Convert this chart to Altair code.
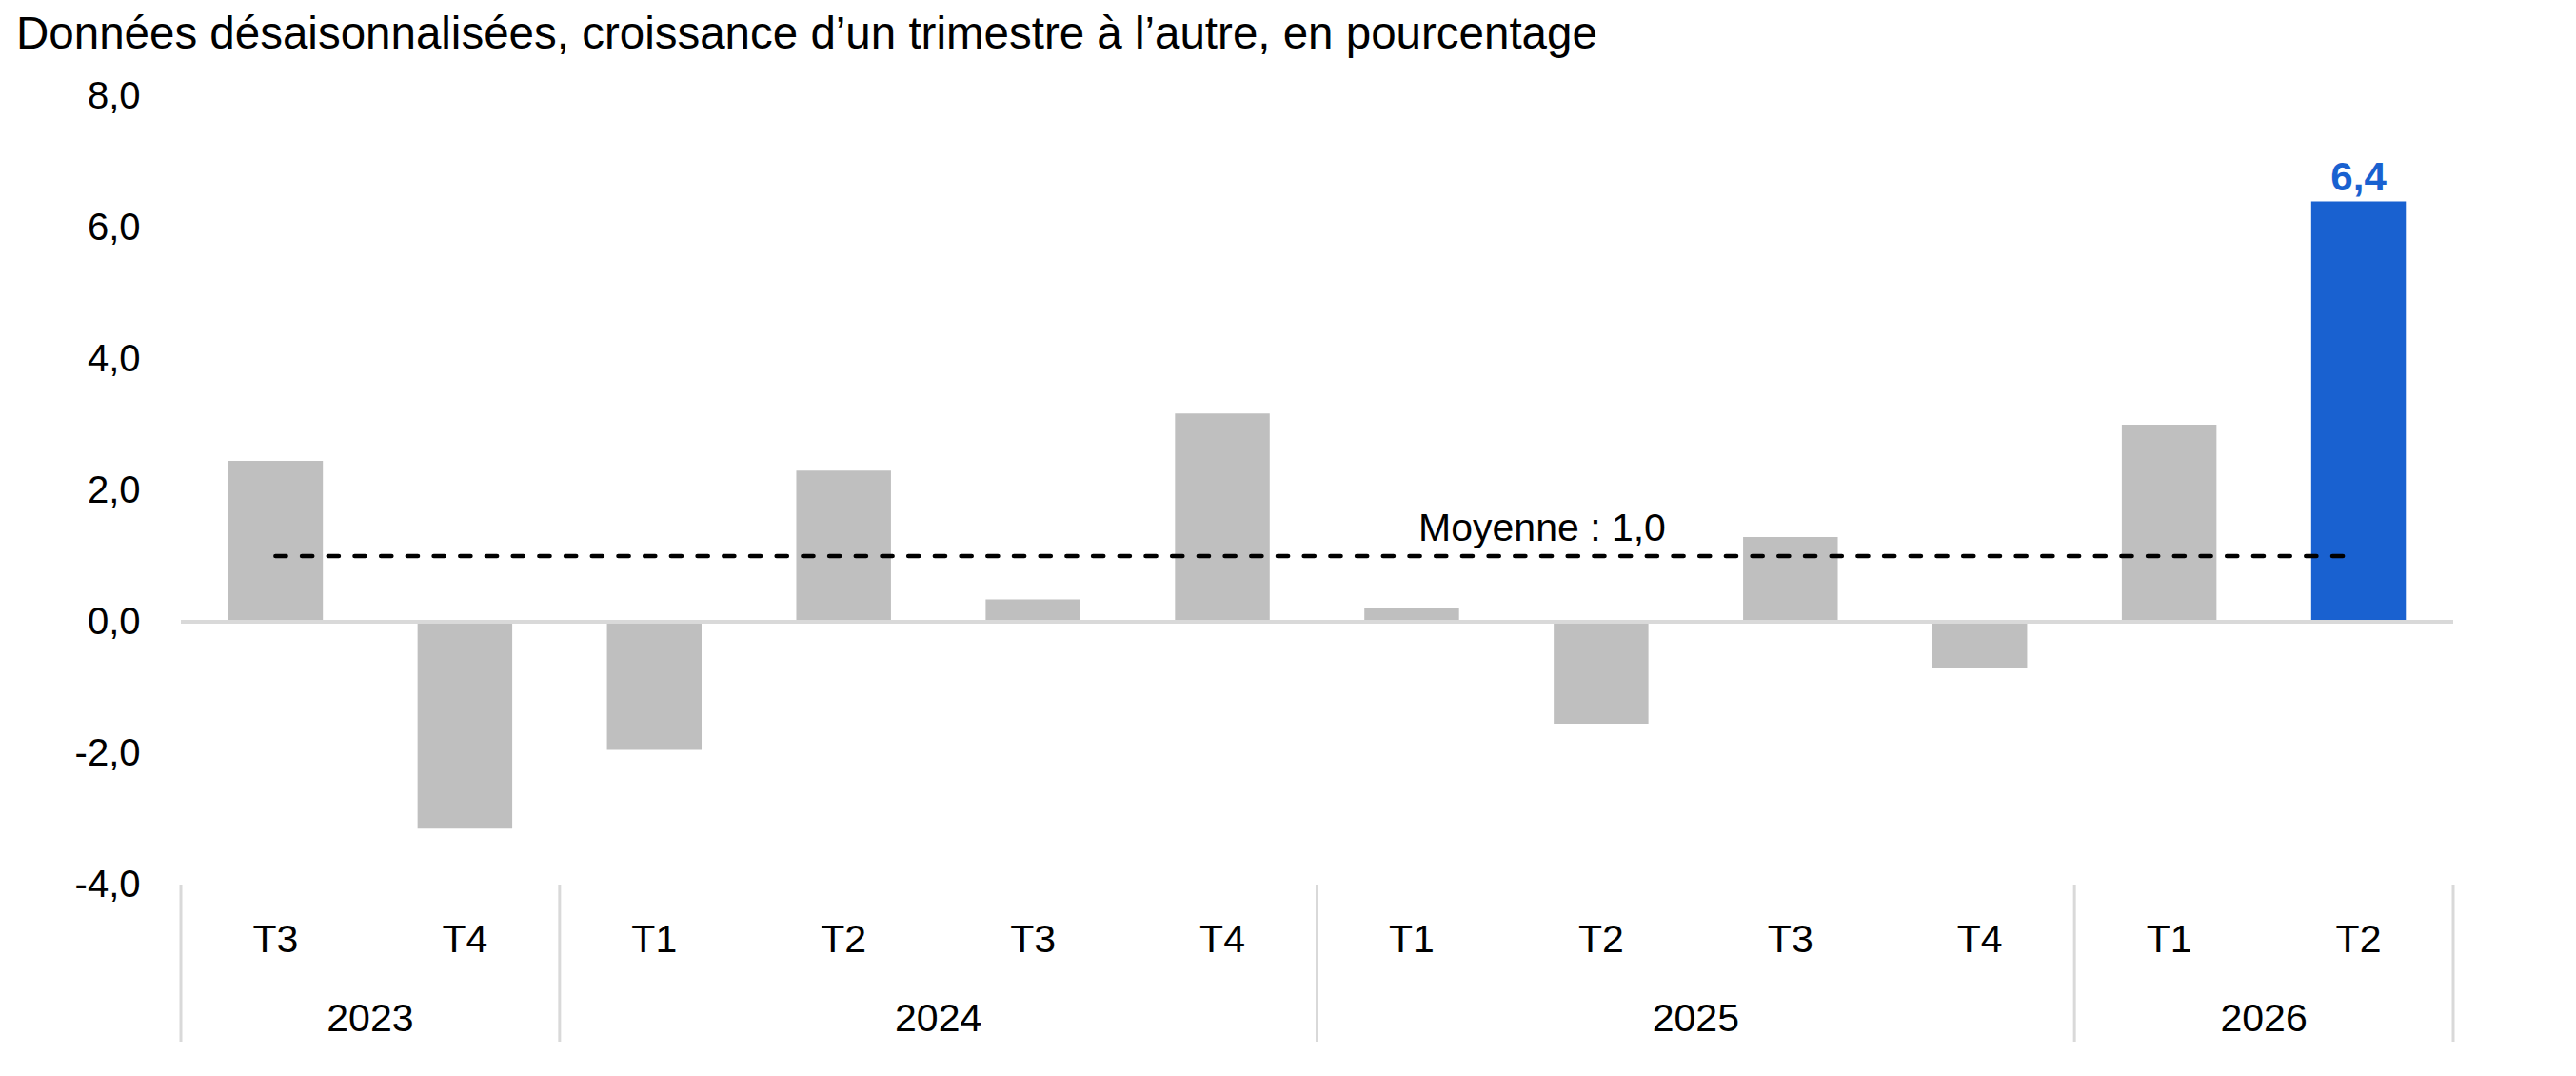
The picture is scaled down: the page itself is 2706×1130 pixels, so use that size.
import altair as alt
import pandas as pd

# ---- data ----
years = ["2023", "2023", "2024", "2024", "2024", "2024",
         "2025", "2025", "2025", "2025", "2026", "2026"]
quarters = ["T3", "T4", "T1", "T2", "T3", "T4",
            "T1", "T2", "T3", "T4", "T1", "T2"]
values = [2.45, -3.15, -1.95, 2.30, 0.34, 3.17,
          0.21, -1.55, 1.29, -0.71, 3.00, 6.40]
highlight = [False] * 11 + [True]
mean_value = 1.0
mean_label = "Moyenne : 1,0"
y_ticks = [-4, -2, 0, 2, 4, 6, 8]
title_text = "Données désaisonnalisées, croissance d’un trimestre à l’autre, en pourcentage"

FONT = "Liberation Sans"
GREY = "#bfbfbf"
BLUE = "#1961d0"
LINE = "#d9d9d9"

df = pd.DataFrame({"year": years, "quarter": quarters, "value": values,
                   "hl": highlight})
df["idx"] = range(len(df))
df["x0"] = df["idx"] + 0.25
df["x1"] = df["idx"] + 0.75
df["xc"] = df["idx"] + 0.5
df["label"] = df["value"].map(lambda v: f"{v:.1f}".replace(".", ","))

grp = df.groupby("year", sort=False)["idx"].agg(["min", "max"]).reset_index()
grp["start"] = grp["min"]
grp["end"] = grp["max"] + 1
grp["mid"] = (grp["start"] + grp["end"]) / 2
bounds = pd.DataFrame({"b": sorted(set(grp["start"]) | set(grp["end"]))})

n = len(df)
xscale = alt.Scale(domain=[0, n], nice=False, zero=False)
yscale = alt.Scale(domain=[min(y_ticks), max(y_ticks)], nice=False)

W, H = 2387, 828

base = alt.Chart(df)

bars = base.mark_bar().encode(
    x=alt.X("x0:Q", scale=xscale, axis=None),
    x2="x1:Q",
    y=alt.Y("value:Q", scale=yscale,
            axis=alt.Axis(values=y_ticks, title=None, domain=False, ticks=False,
                          grid=False, labelFontSize=40, labelFont=FONT,
                          labelColor="#000000", labelPadding=43,
                          labelExpr="replace(replace(format(datum.value, '.1f'), '.', ','), '\u2212', '-')")),
    y2=alt.datum(0),
    color=alt.condition("datum.hl", alt.value(BLUE), alt.value(GREY)),
)

zero = alt.Chart(pd.DataFrame({"a": [0], "b": [n], "y": [0]})).mark_rule(
    color=LINE, strokeWidth=4
).encode(x=alt.X("a:Q", scale=xscale), x2="b:Q", y=alt.Y("y:Q", scale=yscale))

mean_df = pd.DataFrame({"a": [0.5], "b": [n - 0.5], "y": [mean_value],
                        "t": [mean_label]})
mean_line = alt.Chart(mean_df).mark_rule(
    color="#000000", strokeWidth=4.7, strokeDash=[11, 16.7], strokeCap="round"
).encode(x=alt.X("a:Q", scale=xscale), x2="b:Q", y=alt.Y("y:Q", scale=yscale))

mean_text = alt.Chart(mean_df).mark_text(
    font=FONT, fontSize=41, color="#000000", align="center",
    baseline="alphabetic", dy=-16
).encode(x=alt.value(1430), y=alt.Y("y:Q", scale=yscale), text="t:N")

hl_text = base.transform_filter("datum.hl").mark_text(
    font=FONT, fontSize=42, fontWeight="bold", color=BLUE, align="center",
    baseline="alphabetic", dy=-11
).encode(x=alt.X("xc:Q", scale=xscale), y=alt.Y("value:Q", scale=yscale),
         text="label:N")

q_text = base.mark_text(
    font=FONT, fontSize=41, color="#000000", align="center", baseline="alphabetic"
).encode(x=alt.X("xc:Q", scale=xscale), y=alt.value(H + 71), text="quarter:N")

y_text = alt.Chart(grp).mark_text(
    font=FONT, fontSize=41, color="#000000", align="center", baseline="alphabetic"
).encode(x=alt.X("mid:Q", scale=xscale), y=alt.value(H + 154), text="year:N")

seps = alt.Chart(bounds).mark_rule(color=LINE, strokeWidth=3).encode(
    x=alt.X("b:Q", scale=xscale), y=alt.value(H), y2=alt.value(H + 165)
)

title = alt.Chart(pd.DataFrame({"t": [title_text]})).mark_text(
    font=FONT, fontSize=47.5, color="#000000", align="left", baseline="alphabetic"
).encode(x=alt.value(-173), y=alt.value(-50), text="t:N")

chart = alt.layer(
    bars, zero, mean_line, mean_text, hl_text, q_text, y_text, seps, title
).properties(
    width=W, height=H,
    autosize=alt.AutoSizeParams(type="none"),
    padding={"left": 182, "top": 93, "right": 100, "bottom": 180},
).configure(font=FONT).configure_view(stroke=None, strokeWidth=0)

chart.save("out.html", embed_options={"renderer": "svg", "actions": False})
